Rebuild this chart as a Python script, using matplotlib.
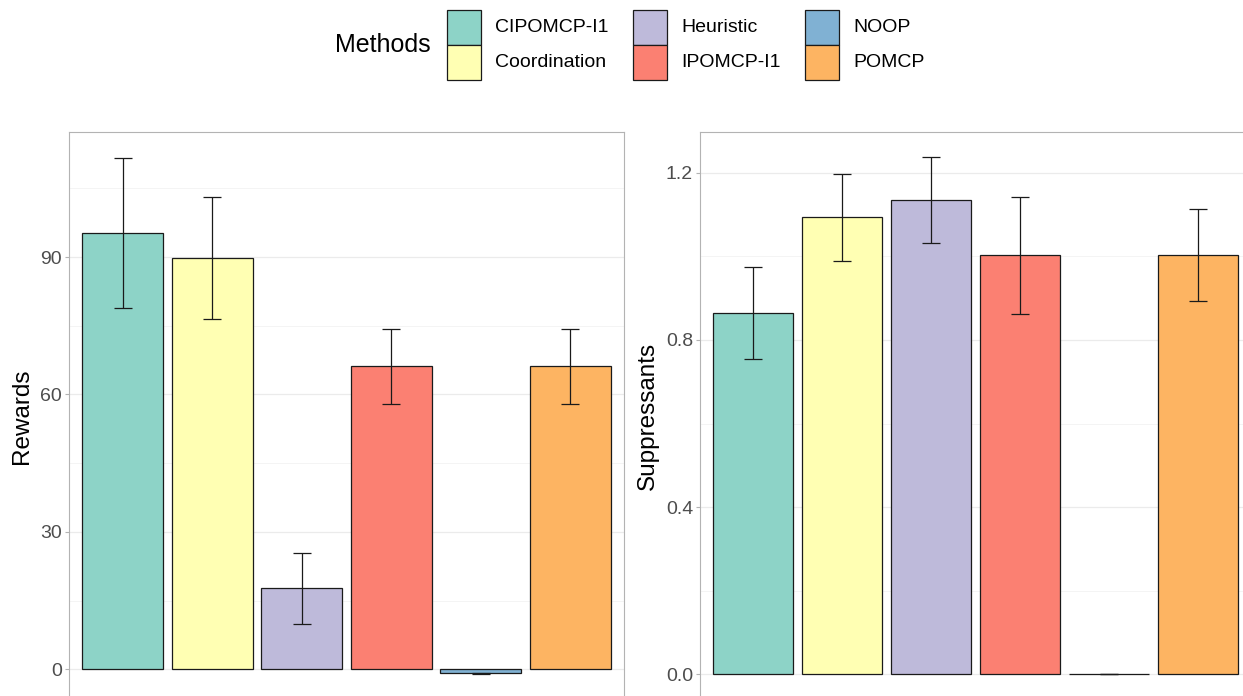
import matplotlib
matplotlib.use("Agg")
import matplotlib.pyplot as plt
from matplotlib.patches import Rectangle

plt.rcParams['font.family'] = ['Liberation Sans', 'DejaVu Sans']

# data
methods = ["CIPOMCP-I1", "Coordination", "Heuristic", "IPOMCP-I1", "NOOP", "POMCP"]
colors = ["#8DD3C7", "#FFFFB3", "#BEBADA", "#FB8072", "#80B1D3", "#FDB462"]

rewards = [95.2, 89.8, 17.7, 66.2, -0.9, 66.2]
rewards_err = [16.4, 13.4, 7.7, 8.2, 0.2, 8.2]

suppressants = [0.864, 1.094, 1.135, 1.003, 0.0, 1.003]
suppressants_err = [0.110, 0.104, 0.102, 0.140, 0.0, 0.110]

reward_ticks = [0, 30, 60, 90]
reward_minor = [15, 45, 75, 105]
supp_ticks = [0.0, 0.4, 0.8, 1.2]
supp_minor = [0.2, 0.6, 1.0]

W, H = 1243, 696
fig = plt.figure(figsize=(W / 100, H / 100), dpi=100)

ax1 = fig.add_axes([69 / W, -4 / H, 555 / W, 568 / H])
ax2 = fig.add_axes([700 / W, -4 / H, 551 / W, 568 / H])


def panel(ax, vals, errs, ticks, minor, ylim, label, labelx, fmt):
    x = list(range(1, len(vals) + 1))
    ax.bar(x, vals, width=0.9, color=colors, edgecolor='#1a1a1a', linewidth=0.9, zorder=2)
    ax.errorbar(x, vals, yerr=errs, fmt='none', ecolor='#1a1a1a', elinewidth=0.9,
                capsize=6.4, capthick=0.9, zorder=3)
    ax.set_xlim(0.4, 6.6)
    ax.set_ylim(*ylim)
    ax.set_xticks([])
    ax.set_yticks(ticks)
    ax.set_yticklabels([fmt.format(t) for t in ticks])
    ax.set_yticks(minor, minor=True)
    ax.tick_params(axis='y', which='major', length=3, width=0.8, color='#b3b3b3',
                   labelcolor='#4d4d4d', labelsize=14, pad=2)
    ax.tick_params(axis='y', which='minor', length=0)
    ax.grid(axis='y', which='major', color='#ebebeb', linewidth=0.9)
    ax.grid(axis='y', which='minor', color='#f3f3f3', linewidth=0.6)
    ax.set_axisbelow(True)
    for s in ax.spines.values():
        s.set_color('#b3b3b3')
        s.set_linewidth(0.8)
    ax.set_ylabel(label, fontsize=17.5, color='black', va='center')
    ax.yaxis.set_label_coords(labelx, 0.5)


panel(ax1, rewards, rewards_err, reward_ticks, reward_minor, (-6.7, 117.3),
      'Rewards', -0.085, '{:.0f}')
panel(ax2, suppressants, suppressants_err, supp_ticks, supp_minor, (-0.062, 1.298),
      'Suppressants', -0.094, '{:.1f}')

# legend on top
fig.text(335 / W, 1 - 45 / H, 'Methods', fontsize=18, ha='left', va='center')
key_x = [447, 633, 805]
for i, (m, c) in enumerate(zip(methods, colors)):
    col, row = i // 2, i % 2
    kx = key_x[col]
    ky = 10 + 35 * row
    fig.add_artist(Rectangle((kx / W, 1 - (ky + 35) / H), 34 / W, 35 / H,
                             facecolor=c, edgecolor='#1a1a1a', linewidth=0.9,
                             transform=fig.transFigure))
    fig.text((kx + 48) / W, 1 - (ky + 17.5) / H, m, fontsize=14, ha='left', va='center')

fig.savefig('out.png', dpi=100)
